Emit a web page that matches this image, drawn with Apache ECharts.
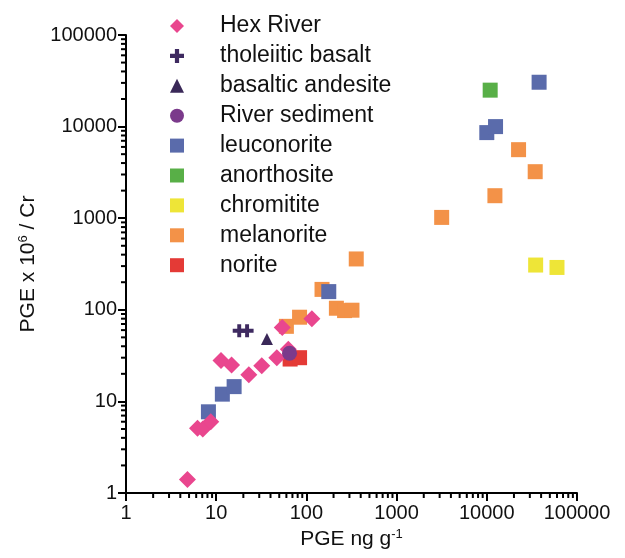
<!DOCTYPE html>
<html>
<head>
<meta charset="utf-8">
<script src="https://cdn.jsdelivr.net/npm/echarts@6/dist/echarts.min.js"></script>
<style>
  html, body { margin: 0; padding: 0; background: #fff; }
  #chart { width: 625px; height: 558px; }
</style>
</head>
<body>
<div id="chart"></div>
<script>
// values: [PGE ng/g, PGE x 10^6 / Cr]
var hexRiver = [[4.8, 1.4], [6.2, 5.1], [7.1, 5.0], [8.7, 6.0], [11.3, 28], [14.8, 25],
                [23, 19.5], [32, 24.5], [47, 30], [54, 64], [63, 37], [115, 80]];
var tholeiiticBasalt = [[18, 59], [22, 59]];
var basalticAndesite = [[36.5, 48]];
var riverSediment = [[65, 33.5]];
var leuconorite = [[8.2, 7.7], [11.7, 12], [15.8, 14.5], [177, 158],
                   [10000, 8600], [12500, 10000], [38000, 30500]];
var anorthosite = [[10900, 25000]];
var chromitite = [[34800, 308], [60000, 290]];
var melanorite = [[60, 66], [84, 83], [149, 167], [357, 359], [215, 104], [265, 98], [320, 99],
                  [3160, 1020], [12300, 1760], [22500, 5600], [34400, 3220]];
var norite = [[66, 29], [84, 30]];

var legendNames = ['Hex River', 'tholeiitic basalt', 'basaltic andesite', 'River sediment',
                   'leuconorite', 'anorthosite', 'chromitite', 'melanorite', 'norite'];
var minorSteps = [2, 3, 4, 5, 6, 7, 8, 9];
var decades = [1, 10, 100, 1000, 10000];

var FONT = 'Liberation Sans, Arial, sans-serif';
var plusPath = 'path://M3.5,0H6.5V3.5H10V6.5H6.5V10H3.5V6.5H0V3.5H3.5Z';

// minor tick positions for the log axes (2..9 in each decade)
var xMinor = [], yMinor = [];
for (var d = 0; d < decades.length; d++) {
    for (var s = 0; s < minorSteps.length; s++) {
        xMinor.push([decades[d] * minorSteps[s], 1]);
        yMinor.push([1, decades[d] * minorSteps[s]]);
    }
}

function scat(name, data, symbol, size, color) {
    return {
        name: name,
        type: 'scatter',
        data: data,
        symbol: symbol,
        symbolSize: size,
        itemStyle: { color: color, opacity: 1 },
        emphasis: { disabled: true }
    };
}

var chart = echarts.init(document.getElementById('chart'));
var option = {
    animation: false,
    backgroundColor: '#ffffff',
    grid: { left: 126, right: 48, top: 35, bottom: 65 },
    legend: {
        data: legendNames,
        orient: 'vertical',
        left: 165,
        top: 9,
        itemWidth: 14,
        itemHeight: 14,
        itemGap: 5.9,
        textStyle: { fontFamily: FONT, fontSize: 23, color: '#111', lineHeight: 24, padding: [0, 0, 0, 31] }
    },
    xAxis: {
        type: 'log',
        logBase: 10,
        min: 1,
        max: 100000,
        name: '{a|PGE ng g}{s|-1}',
        nameLocation: 'middle',
        nameGap: 33,
        nameTextStyle: {
            rich: {
                a: { fontFamily: FONT, fontSize: 21, color: '#111' },
                s: { fontFamily: FONT, fontSize: 13, color: '#111', verticalAlign: 'top', padding: [0, 0, 10, 0] }
            }
        },
        axisLine: { onZero: false, lineStyle: { color: '#000', width: 2 } },
        axisTick: { length: 8, lineStyle: { color: '#000', width: 2 } },
        axisLabel: {
            fontFamily: FONT, fontSize: 20, color: '#111', margin: 10,
            formatter: function (v) { return String(Math.round(v)); }
        },
        splitLine: { show: false }
    },
    yAxis: {
        type: 'log',
        logBase: 10,
        min: 1,
        max: 100000,
        name: '{a|PGE x 10}{s|6}{a| / Cr}',
        nameLocation: 'middle',
        nameGap: 86,
        nameRotate: 90,
        nameTextStyle: {
            rich: {
                a: { fontFamily: FONT, fontSize: 21, color: '#111' },
                s: { fontFamily: FONT, fontSize: 13, color: '#111', verticalAlign: 'top', padding: [0, 0, 10, 0] }
            }
        },
        axisLine: { onZero: false, lineStyle: { color: '#000', width: 2 } },
        axisTick: { length: 8, lineStyle: { color: '#000', width: 2 } },
        axisLabel: {
            fontFamily: FONT, fontSize: 20, color: '#111', margin: 9,
            formatter: function (v) { return String(Math.round(v)); }
        },
        splitLine: { show: false }
    },
    series: [
        scat('melanorite', melanorite, 'rect', 15, '#F39248'),
        scat('chromitite', chromitite, 'rect', 15, '#EEE537'),
        scat('anorthosite', anorthosite, 'rect', 15, '#58AF47'),
        scat('norite', norite, 'rect', 15, '#E43A36'),
        scat('leuconorite', leuconorite, 'rect', 15, '#5A6BAB'),
        scat('Hex River', hexRiver, 'diamond', 17, '#E9468E'),
        scat('tholeiitic basalt', tholeiiticBasalt, plusPath, 13, '#3E2A60'),
        scat('basaltic andesite', basalticAndesite, 'triangle', 12, '#3A2858'),
        scat('River sediment', riverSediment, 'circle', 15, '#7B3A8B'),
        {
            type: 'custom',
            silent: true,
            clip: false,
            data: xMinor,
            encode: { x: 0, y: 1 },
            renderItem: function (params, api) {
                var p = api.coord([api.value(0), api.value(1)]);
                return { type: 'line', shape: { x1: p[0], y1: p[1], x2: p[0], y2: p[1] + 5 },
                         style: { stroke: '#000', lineWidth: 2 } };
            }
        },
        {
            type: 'custom',
            silent: true,
            clip: false,
            data: yMinor,
            encode: { x: 0, y: 1 },
            renderItem: function (params, api) {
                var p = api.coord([api.value(0), api.value(1)]);
                return { type: 'line', shape: { x1: p[0] - 5, y1: p[1], x2: p[0], y2: p[1] },
                         style: { stroke: '#000', lineWidth: 2 } };
            }
        }
    ]
};
chart.setOption(option);
</script>
</body>
</html>
